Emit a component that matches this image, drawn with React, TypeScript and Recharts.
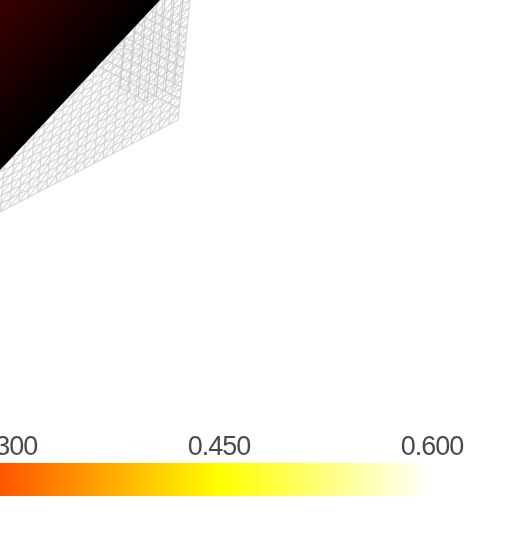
import React from "react";
import { Area, AreaChart, ComposedChart, Line, XAxis, YAxis } from "recharts";

// colour bar values
const colorTicks = [0.3, 0.45, 0.6];
const colorDomain = [0.2958, 0.6577];
const barValues = [0.2958, 0.6];

// mesh surface, in picture units [x1, y1, x2, y2]
const frontRows = [
  [0, 212, 178, 120], [0, 204, 179, 112], [0, 196, 180, 104], [0, 188, 180, 96],
  [0, 180, 181, 88], [0, 172, 182, 80], [0, 164, 183, 72], [0, 156, 184, 64],
  [0, 148, 184, 56], [0, 140, 185, 48], [0, 132, 186, 40], [0, 124, 187, 32],
  [0, 116, 188, 24], [0, 108, 188, 16], [0, 100, 189, 8], [0, 92, 190, 0],
];
const frontColumns = [
  [0, 212, 21, 0], [9.4, 207, 30, 0], [18.7, 202, 39, 0], [28, 197.5, 48, 0],
  [37.5, 192.6, 57, 0], [46.8, 187.8, 66, 0], [56, 183, 74, 0], [65.6, 178, 83, 0],
  [75, 173, 92, 0], [84, 168, 101, 0], [93.7, 163.6, 110, 0], [103, 158.7, 119, 0],
  [112.4, 153.9, 128, 0], [121.8, 149, 137, 0], [131, 144, 145, 0], [140.5, 139, 154, 0],
  [150, 134.6, 163, 0], [159, 129.7, 172, 0], [168.6, 124.8, 181, 0], [178, 120, 190, 0],
];
const frontDiagonals = [
  [0, 172, 136, 0], [0, 180, 142, 0], [0, 188, 149, 0], [0, 196, 155, 0], [0, 204, 161, 0],
  [0, 212, 167, 0], [9.4, 207, 173, 0], [18.7, 202, 178, 0], [28, 197.5, 184, 0],
  [37.5, 192.6, 190, 0], [46.8, 187.8, 189, 8], [56, 183, 188, 16], [65.6, 178, 188, 24],
  [75, 173, 187, 32], [84, 168, 186, 40], [93.7, 163.6, 185, 48], [103, 158.7, 184, 56],
  [112.4, 153.9, 184, 64], [121.8, 149, 183, 72], [131, 144, 182, 80], [140.5, 139, 181, 88],
  [150, 134.6, 180, 96], [159, 129.7, 180, 104], [168.6, 124.8, 179, 112],
];
const backRows = [
  [115, 85, 147, 102], [100, 67, 178, 108], [100, 57, 180, 99], [105, 47, 181, 87],
  [110, 40, 182, 78], [120, 35, 183, 68], [125, 27, 184, 58], [135, 22, 185, 48],
  [140, 15, 186, 38], [150, 10, 187, 29],
];
const backColumns = [
  [120, 88, 129, 0], [129, 92, 138, 0], [138, 97, 147, 0], [147, 102, 157, 0],
  [156, 97, 165, 0], [165, 92, 174, 0], [174, 88, 183, 0],
];

// dark part of the surface: x, top, bottom
const surfaceX = [0, 160];
const surfaceTop = [0, 0];
const surfaceBottom = [170, 0];

const toRows = (segments: number[][]) =>
  segments.flatMap(([x1, y1, x2, y2]) => [
    { x: x1, y: y1 },
    { x: x2, y: y2 },
    { x: x2, y: null },
  ]);

const surfaceData = surfaceX.map((x, i) => ({
  x,
  band: [surfaceTop[i], surfaceBottom[i]],
}));
const barData = barValues.map((value) => ({ value, level: 1 }));

const meshSeries = [
  { name: "frontRows", rows: toRows(frontRows), color: "#d6d6d6" },
  { name: "frontColumns", rows: toRows(frontColumns), color: "#d6d6d6" },
  { name: "frontDiagonals", rows: toRows(frontDiagonals), color: "#d6d6d6" },
  { name: "backRows", rows: toRows(backRows), color: "#d0d0d0" },
  { name: "backColumns", rows: toRows(backColumns), color: "#c8c8c8" },
];

const layer: React.CSSProperties = { position: "absolute", left: 0, top: 0 };

export default function App() {
  return (
    <div
      style={{
        ...layer,
        width: 514,
        height: 550,
        overflow: "hidden",
        background: "#fff",
        filter: "blur(0.5px)",
      }}
    >
      <div style={{ ...layer, filter: "blur(0.5px)" }}>
        <ComposedChart
          width={514}
          height={425}
          margin={{ top: 0, right: 0, bottom: 0, left: 0 }}
          data={surfaceData}
        >
          <XAxis dataKey="x" type="number" domain={[0, 514]} hide />
          <YAxis type="number" domain={[0, 425]} reversed hide />
          {meshSeries.map((s) => (
            <Line
              key={s.name}
              data={s.rows}
              dataKey="y"
              stroke={s.color}
              strokeWidth={1.2}
              dot={false}
              activeDot={false}
              isAnimationActive={false}
            />
          ))}
        </ComposedChart>
      </div>
      {/* the dark part hides the mesh behind it, so it gets its own layer on top */}
      <div style={layer}>
        <AreaChart
          width={514}
          height={425}
          margin={{ top: 0, right: 0, bottom: 0, left: 0 }}
          data={surfaceData}
        >
          <defs>
            <linearGradient id="surfaceFill" x1="0" y1="0" x2="0.5" y2="0.5">
              <stop offset="0%" stopColor="#3a0000" />
              <stop offset="100%" stopColor="#000000" />
            </linearGradient>
          </defs>
          <XAxis dataKey="x" type="number" domain={[0, 514]} hide />
          <YAxis type="number" domain={[0, 425]} reversed hide />
          <Area
            dataKey="band"
            type="linear"
            stroke="none"
            fill="url(#surfaceFill)"
            fillOpacity={1}
            dot={false}
            activeDot={false}
            isAnimationActive={false}
          />
        </AreaChart>
      </div>
      <div style={{ ...layer, top: 425 }}>
        <AreaChart
          width={514}
          height={71}
          margin={{ top: 0, right: 0, bottom: 0, left: 0 }}
          data={barData}
        >
          <defs>
            <linearGradient id="heat" x1="0" y1="0" x2="1" y2="0">
              <stop offset="0%" stopColor="#ff5500" />
              <stop offset="51%" stopColor="#ffff00" />
              <stop offset="100%" stopColor="#ffffff" />
            </linearGradient>
          </defs>
          <XAxis
            dataKey="value"
            type="number"
            orientation="top"
            domain={colorDomain}
            ticks={colorTicks}
            interval={0}
            height={38}
            axisLine={false}
            tickLine={false}
            tickMargin={2}
            tickFormatter={(v: number) => v.toFixed(3)}
            tick={{
              fontFamily: "Liberation Sans",
              fontSize: 27,
              letterSpacing: -1,
              fill: "#4a4a4a",
            }}
          />
          <YAxis type="number" domain={[0, 1]} hide />
          <Area
            dataKey="level"
            type="linear"
            stroke="none"
            fill="url(#heat)"
            fillOpacity={1}
            dot={false}
            activeDot={false}
            isAnimationActive={false}
          />
        </AreaChart>
      </div>
    </div>
  );
}
